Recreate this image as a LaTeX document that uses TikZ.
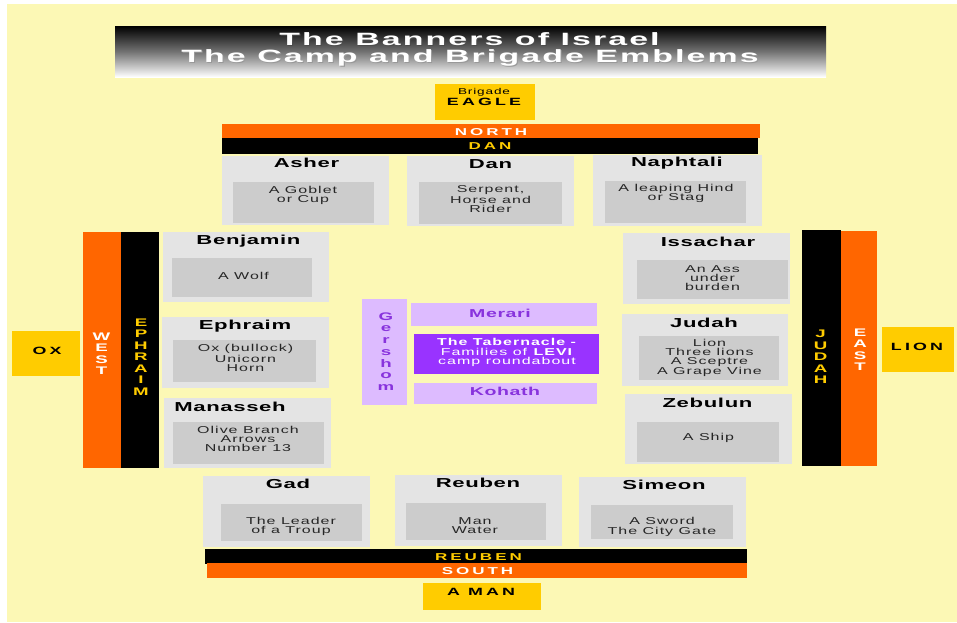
\documentclass[tikz,border=0pt]{standalone}
\usepackage{fontspec}
\setmainfont{Liberation Sans}
\newfontfamily\fT[FakeStretch=1.9,LetterSpace=12]{Liberation Sans}
\newfontfamily\fN[FakeStretch=1.7,LetterSpace=5]{Liberation Sans}
\newfontfamily\fE[FakeStretch=1.6,LetterSpace=10]{Liberation Sans}
\newfontfamily\fC[FakeStretch=1.7,LetterSpace=30]{Liberation Sans}
\definecolor{bgyellow}{HTML}{FCF8B5}
\definecolor{orng}{HTML}{FF6600}
\definecolor{gold}{HTML}{FFCC00}
\definecolor{lgrey}{HTML}{E4E4E4}
\definecolor{mgrey}{HTML}{CCCCCC}
\definecolor{lilac}{HTML}{DDBBFF}
\definecolor{violet}{HTML}{9933FF}
\definecolor{ptext}{HTML}{8833DD}
\newcommand\boxr[6]{\node[#1, minimum width={(#4)-(#2)}, minimum height={(#5)-(#3)}] (#6) at ({((#2)+(#4))/2},{((#3)+(#5))/2}) {};}
\tikzset{
  every node/.style={inner sep=0pt, outer sep=0pt},
  outerbox/.style={fill=lgrey},
  innerbox/.style={fill=mgrey},
  orangebar/.style={fill=orng},
  blackbar/.style={fill=black},
  goldbox/.style={fill=gold},
  lilacbox/.style={fill=lilac},
  violetbox/.style={fill=violet},
  tribename/.style={font=\fN\bfseries\fontsize{13}{13}\selectfont, text=black},
  emblem/.style={font=\fE\fontsize{10}{9.2}\selectfont, text=black!85, align=center},
  barlabel/.style={font=\fC\bfseries\fontsize{10}{11}\selectfont},
  vertlabel/.style={font=\fC\bfseries\fontsize{11}{11.5}\selectfont, align=center},
  signlabel/.style={font=\fC\bfseries\fontsize{10.5}{12}\selectfont, text=black},
  levilabel/.style={font=\fN\bfseries\fontsize{11.5}{12}\selectfont, text=ptext},
  titletext/.style={font=\fT\bfseries\fontsize{17.8}{19}\selectfont},
}
\begin{document}
\begin{tikzpicture}[x=1pt,y=-1pt]
\useasboundingbox (0,0) rectangle (957,622);
\fill[bgyellow] (7,4) rectangle (957,622);
% title
\node[minimum width=711, minimum height=51, top color=black, bottom color=white, middle color=black!55, shading angle=0] (title) at (470.5,51.5) {};
\node[titletext, text=black!70] (t1s) at (470.5,40) {The Banners of Israel};
\node[titletext, text=white] (t1) at (469.5,39) {The Banners of Israel};
\node[titletext, text=black!40] (t2s) at (471,59) {The Camp and Brigade Emblems};
\node[titletext, text=white] (t2) at (470,58) {The Camp and Brigade Emblems};
% north
\boxr{goldbox}{435}{84}{535}{120}{eagle}
\node[font=\fE\fontsize{8.5}{9}\selectfont] (brig) at (484,92) {Brigade};
\node[signlabel] (eaglet) at (484,102) {EAGLE};
\boxr{orangebar}{222}{124}{760}{138}{north}
\node[barlabel, text=white] (northt) at (491,132) {NORTH};
\boxr{blackbar}{222}{138}{758}{154}{dan}
\node[barlabel, text=gold] (dant) at (490,146.5) {DAN};
\boxr{outerbox}{222}{156}{389}{225}{asher}
\boxr{innerbox}{233}{182}{374}{223}{asheri}
\node[tribename] (ashern) at (306.5,163) {Asher};
\node[emblem] (ashere) at (303,195.5) {A Goblet\\or Cup};
\boxr{outerbox}{407}{156}{574}{226}{danb}
\boxr{innerbox}{419}{182}{562}{224}{danbi}
\node[tribename] (danbn) at (490.5,164) {Dan};
\node[emblem] (danbe) at (490.5,199) {Serpent,\\Horse and\\Rider};
\boxr{outerbox}{593}{155}{762}{226}{naph}
\boxr{innerbox}{605}{181}{746}{223}{naphi}
\node[tribename] (naphn) at (677,163) {Naphtali};
\node[emblem] (naphe) at (676,193.5) {A leaping Hind\\or Stag};
% west
\boxr{goldbox}{12}{331}{80}{376}{ox}
\node[signlabel] (oxt) at (47,351) {OX};
\boxr{orangebar}{83}{232}{121}{468}{west}
\node[vertlabel, text=white] (westt) at (101.5,353.5) {W\\E\\S\\T};
\boxr{blackbar}{121}{232}{159}{468}{ephb}
\node[vertlabel, text=gold] (ephbt) at (141,357) {E\\P\\H\\R\\A\\I\\M};
\boxr{outerbox}{163}{232}{329}{302}{benj}
\boxr{innerbox}{172}{258}{312}{297}{benji}
\node[tribename] (benjn) at (248.5,241) {Benjamin};
\node[emblem] (benje) at (243.5,276) {A Wolf};
\boxr{outerbox}{162}{317}{329}{388}{ephr}
\boxr{innerbox}{173}{340}{316}{382}{ephri}
\node[tribename] (ephrn) at (245,326) {Ephraim};
\node[emblem] (ephre) at (245.5,358) {Ox (bullock)\\Unicorn\\Horn};
\boxr{outerbox}{164}{398}{331}{468}{mana}
\boxr{innerbox}{173}{422}{324}{464}{manai}
\node[tribename] (manan) at (230,407) {Manasseh};
\node[emblem] (manae) at (248,439) {Olive Branch\\Arrows\\Number 13};
% levi
\boxr{lilacbox}{362}{299}{407}{405}{gersh}
\node[levilabel, align=center, font=\fC\bfseries\fontsize{11}{11.7}\selectfont] (gersht) at (386,351.5) {G\\e\\r\\s\\h\\o\\m};
\boxr{lilacbox}{411}{303}{597}{326}{merari}
\node[levilabel] (merarit) at (500,313) {Merari};
\boxr{violetbox}{414}{334}{599}{374}{tab}
\node[font=\fE\fontsize{10}{9.2}\selectfont, text=white, align=center] (tabt) at (507,352.5) {\textbf{The Tabernacle -}\\Families of \textbf{LEVI}\\camp roundabout};
\boxr{lilacbox}{414}{383}{597}{404}{kohath}
\node[levilabel] (kohatht) at (505,391) {Kohath};
% east
\boxr{outerbox}{623}{233}{790}{304}{issa}
\boxr{innerbox}{637}{260}{788}{299}{issai}
\node[tribename] (issan) at (708,242) {Issachar};
\node[emblem] (issae) at (712.5,278) {An Ass\\under\\burden};
\boxr{outerbox}{622}{314}{788}{386}{judah}
\boxr{innerbox}{639}{336}{779}{380}{judahi}
\node[tribename] (judahn) at (704,323) {Judah};
\node[emblem] (judahe) at (709.5,358) {Lion\\Three lions\\A Sceptre\\A Grape Vine};
\boxr{outerbox}{625}{394}{792}{464}{zeb}
\boxr{innerbox}{637}{422}{779}{462}{zebi}
\node[tribename] (zebn) at (707.5,403) {Zebulun};
\node[emblem] (zebe) at (708.5,438) {A Ship};
\boxr{blackbar}{802}{230}{841}{466}{judb}
\node[vertlabel, text=gold] (judbt) at (820.5,357) {J\\U\\D\\A\\H};
\boxr{orangebar}{841}{231}{877}{466}{east}
\node[vertlabel, text=white] (eastt) at (860,349.5) {E\\A\\S\\T};
\boxr{goldbox}{882}{327}{954}{372}{lion}
\node[signlabel] (liont) at (917,347) {LION};
% south
\boxr{outerbox}{203}{476}{370}{547}{gad}
\boxr{innerbox}{221}{504}{362}{541}{gadi}
\node[tribename] (gadn) at (288,484) {Gad};
\node[emblem] (gade) at (291,526.5) {The Leader\\of a Troup};
\boxr{outerbox}{395}{475}{562}{546}{reub}
\boxr{innerbox}{406}{503}{546}{540}{reubi}
\node[tribename] (reubn) at (478,483) {Reuben};
\node[emblem] (reube) at (475,525.5) {Man\\Water};
\boxr{outerbox}{579}{477}{746}{547}{sim}
\boxr{innerbox}{591}{505}{733}{539}{simi}
\node[tribename] (simn) at (664,485) {Simeon};
\node[emblem] (sime) at (662,527) {A Sword\\The City Gate};
\boxr{blackbar}{205}{549}{747}{564}{reubb}
\node[barlabel, text=gold] (reubbt) at (478.5,557) {REUBEN};
\boxr{orangebar}{207}{563}{747}{578}{south}
\node[barlabel, text=white] (southt) at (477.5,571) {SOUTH};
\boxr{goldbox}{423}{583}{541}{610}{man}
\node[signlabel] (mant) at (481,592) {A MAN};
\end{tikzpicture}
\end{document}
